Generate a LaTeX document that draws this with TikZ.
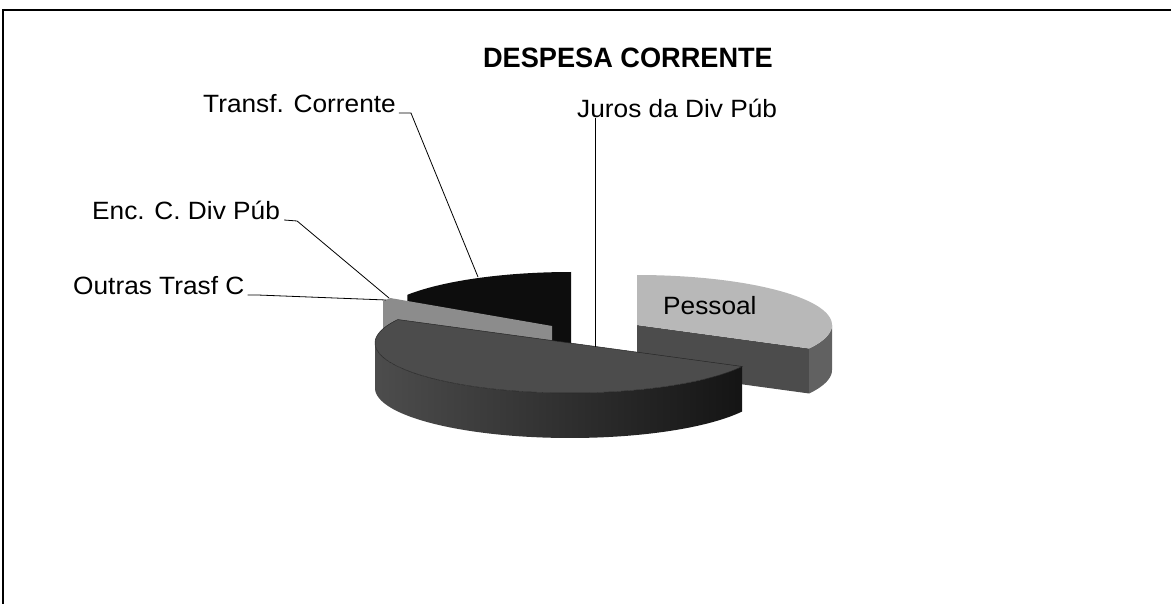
\documentclass[tikz,border=0pt]{standalone}
\usepackage{fontspec}
\setmainfont{Liberation Sans}
\newfontfamily\lblfont[FakeStretch=1.05]{Liberation Sans}
\newfontfamily\ttlfont[FakeStretch=0.97]{Liberation Sans}
\definecolor{pesstop}{gray}{0.72}
\definecolor{pesscut}{gray}{0.30}
\definecolor{pessside}{gray}{0.38}
\definecolor{bigtop}{gray}{0.30}
\definecolor{bigsidel}{gray}{0.30}
\definecolor{bigsider}{gray}{0.08}
\definecolor{blacksl}{gray}{0.05}
\definecolor{graysl}{gray}{0.55}
\begin{document}
\begin{tikzpicture}[x=1pt,y=-1pt,
  lbl/.style={font=\lblfont\fontsize{25}{25}\selectfont, inner sep=0pt, anchor=base west},
  ttl/.style={font=\ttlfont\bfseries\fontsize{28}{28}\selectfont, inner sep=0pt, anchor=base},
  leader/.style={draw=black, line width=0.8pt},
  frameline/.style={draw=black, line width=1.3pt},
  edge/.style={draw=black!85, line width=0.5pt}]
\useasboundingbox (0,0) rectangle (1171,604);
% frame
\coordinate (fbl) at (3,604);
\coordinate (ftl) at (3,10);
\coordinate (ftr) at (1171,10);
\draw[frameline] (fbl) -- (ftl) -- (ftr);

% title
\node[ttl] (title) at (628,68) {DESPESA CORRENTE};

% black slice (Transf. Corrente): top surface and front cut face
\fill[blacksl] (571,367) -- (571,322) -- plot[domain=90:147, samples=40] ({571+195*cos(\x)},{322-50*sin(\x)})
   -- (407.5,339.8) -- cycle;

% gray slice (Outras Trasf C)
\fill[graysl] (552,371) -- (552,326) -- plot[domain=146:150, samples=5] ({552+195*cos(\x)},{326-50*sin(\x)})
   -- (383.1,346) -- cycle;

% Pessoal slice
\fill[pesscut] (637,325) -- (809.2,348.5) -- (809.2,393.5) -- (637,370) -- cycle;
\fill[pessside] plot[domain=0:-28, samples=20] ({637+195*cos(\x)},{325-50*sin(\x)})
   -- plot[domain=-28:0, samples=20] ({637+195*cos(\x)},{370-50*sin(\x)}) -- cycle;
\fill[pesstop] (637,325) -- plot[domain=90:-28, samples=60] ({637+195*cos(\x)},{325-50*sin(\x)}) -- cycle;
\node[lbl] (pessoal) at (663,315) {Pessoal};

% big slice
\shade[left color=bigsidel, right color=bigsider]
   plot[domain=180:332, samples=80] ({570+195*cos(\x)},{343-50*sin(\x)})
   -- plot[domain=332:180, samples=80] ({570+195*cos(\x)},{388-50*sin(\x)}) -- cycle;
\filldraw[fill=bigtop, edge] (570,343) -- plot[domain=152:332, samples=90] ({570+195*cos(\x)},{343-50*sin(\x)}) -- cycle;

% labels
\node[lbl] (tc) at (203,113) {Transf. Corrente};
\node[lbl] (juros) at (577,118) {Juros da Div Púb};
\node[lbl] (enc) at (92,220) {Enc. C. Div Púb};
\node[lbl] (outras) at (73,295) {Outras Trasf C};

% leader end points
\coordinate (ptc) at (478,277);
\coordinate (pju) at (595,347);
\coordinate (pen) at (389,298);
\coordinate (pou) at (386,300);

\draw[leader] ([xshift=3pt]tc.base east) -- ++(12,0) -- (ptc);
\draw[leader] (pju |- juros.south) -- (pju);
\draw[leader] ([xshift=4pt]enc.base east) -- ++(13,1) -- (pen);
\draw[leader] ([xshift=3pt]outras.base east) -- ++(10,0) -- (pou);
\end{tikzpicture}
\end{document}
